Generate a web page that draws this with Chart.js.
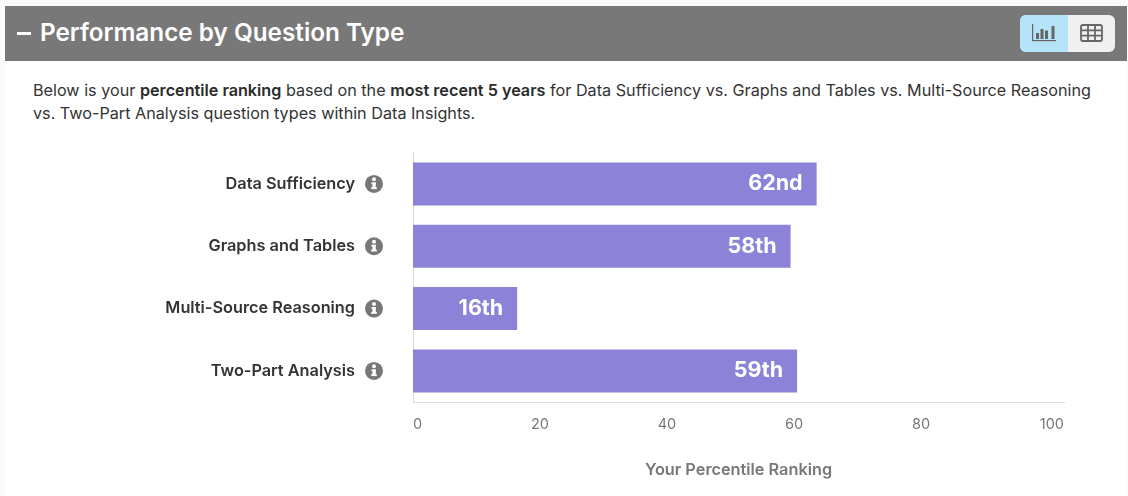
<!DOCTYPE html>
<html><head><meta charset="utf-8">
<script src="https://cdn.jsdelivr.net/npm/chart.js@4/dist/chart.umd.min.js"></script>
<style>
html,body{margin:0;padding:0;background:#fafafa;width:1128px;height:496px;overflow:hidden;font-family:Inter,"Open Sans",sans-serif}
#panel{position:absolute;left:5px;top:61px;width:1122px;height:435px;background:#fff}
#head{position:absolute;left:5px;top:6px;width:1122px;height:55px;background:#787878}
#dash{position:absolute;left:17px;top:32px;width:14px;height:2.5px;background:#fff}
#title{position:absolute;left:40px;top:17px;color:#fff;font-size:24.3px;font-weight:600;line-height:30px;white-space:nowrap}
#toggle{position:absolute;left:1020px;top:15px;width:95px;height:37px;border-radius:6px;overflow:hidden;background:#f0f0f0}
#toggle i{position:absolute;left:0;top:0;width:48px;height:37px;background:#b5e3f8}
#toggle svg{position:absolute;top:0;left:0}
#intro{position:absolute;left:33px;top:79px;color:#333;font-size:16.2px;line-height:23px;white-space:nowrap}
#intro b{font-weight:600;color:#2b2b2b}
#wrap{position:absolute;left:0;top:85px;width:1128px;height:411px}
</style></head><body>
<div id="panel"></div>
<div id="head"></div><div id="dash"></div>
<div id="title">Performance by Question Type</div>
<div id="toggle"><i></i>
<svg width="95" height="37" viewBox="0 0 95 37" fill="#666">
<rect x="12" y="9" width="1.2" height="16"/><rect x="12" y="25" width="24" height="1.2"/>
<rect x="16" y="18" width="3" height="6"/><rect x="20.5" y="14" width="3" height="10"/><rect x="25" y="15.5" width="3" height="8.5"/><rect x="31.5" y="11" width="3" height="13"/>
<g fill="none" stroke="#666" stroke-width="1.8"><rect x="61" y="10" width="21" height="16" rx="2"/>
<path d="M61 15.4h21M61 20.6h21M68 10v16M75 10v16"/></g>
</svg></div>
<div id="intro">Below is your <b>percentile ranking</b> based on the <b>most recent 5 years</b> for Data Sufficiency vs. Graphs and Tables vs. Multi-Source Reasoning<br>vs. Two-Part Analysis question types within Data Insights.</div>
<div id="wrap"><canvas id="c" width="1128" height="411"></canvas></div>
<script>
const categories=["Data Sufficiency","Graphs and Tables","Multi-Source Reasoning","Two-Part Analysis"];
const percentiles=[62,58,16,59];
const rankLabels=["62nd","58th","16th","59th"];
const tickStep=20;
const FONT='Inter, "Open Sans", sans-serif';

const marks={id:'marks',
 beforeDraw(ch){
  // the reference's axis labels sit slightly left of the true tick positions
  const items=ch.scales.x.getLabelItems();
  if(!items._shifted){items._shifted=true;
   items.forEach((it,i)=>{ if(i>0&&i<items.length-1) it.options.translation[0]-=3.2*i; });}
 },
 afterDatasetsDraw(ch){
  const c=ch.ctx,meta=ch.getDatasetMeta(0);
  c.save();
  c.font='700 21.5px '+FONT;c.fillStyle='#fff';c.textAlign='right';c.textBaseline='middle';
  meta.data.forEach((b,i)=>c.fillText(rankLabels[i],b.x-14,b.y));
  const y=ch.scales.y;
  categories.forEach((n,i)=>{
   const py=y.getPixelForTick(i),px=y.left+y.width-39;
   c.fillStyle='#777';c.beginPath();c.arc(px,py,9,0,Math.PI*2);c.fill();
   c.fillStyle='#fff';
   c.beginPath();c.arc(px,py-4.6,2,0,Math.PI*2);c.fill();
   c.fillRect(px-2.6,py-1.4,4.4,1.6);c.fillRect(px-1.6,py-1.4,3.4,6);c.fillRect(px-2.8,py+3.4,5.6,1.8);
  });
  c.restore();
 }};

new Chart(document.getElementById('c'),{
 type:'bar',
 data:{labels:categories,datasets:[{data:percentiles,backgroundColor:'#8c83d8',barPercentage:.69,categoryPercentage:1,borderWidth:0}]},
 plugins:[marks],
 options:{indexAxis:'y',responsive:false,animation:false,
  layout:{padding:{left:0,right:64,top:12,bottom:8}},
  plugins:{legend:{display:false},tooltip:{enabled:false}},
  scales:{
   y:{afterFit(s){s.width=413;},grid:{display:false,drawTicks:false},border:{color:'#ddd',width:1},
      ticks:{padding:58,color:'#333',font:{family:FONT,size:16.3,weight:'600'}}},
   x:{min:0,max:100,
      grid:{display:false,drawTicks:false},border:{color:'#ddd',width:1},
      ticks:{stepSize:tickStep,autoSkip:false,maxRotation:0,align:'inner',padding:14,color:'#777',font:{family:FONT,size:14.5,weight:'400'}},
      title:{display:true,text:'Your Percentile Ranking',color:'#777',padding:{top:13,bottom:8},font:{family:FONT,size:16.3,weight:'600'}}}
  }}
});
</script>
</body></html>
